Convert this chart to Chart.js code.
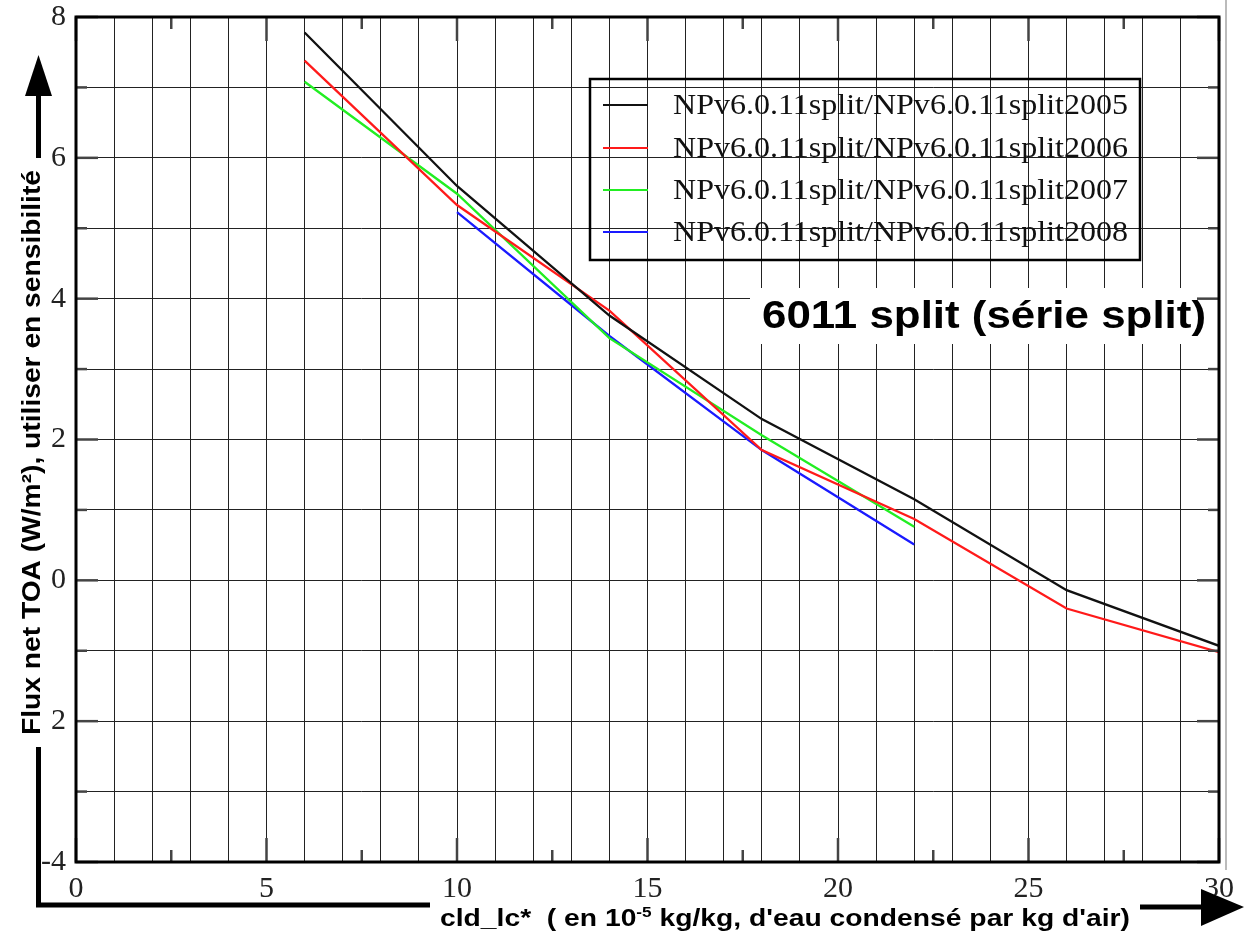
<!DOCTYPE html>
<html>
<head>
<meta charset="utf-8">
<script src="https://cdn.jsdelivr.net/npm/chart.js@4.4.1/dist/chart.umd.min.js"></script>
<style>
  html, body { margin: 0; padding: 0; background: #fff; }
  #wrap { width: 1251px; height: 932px; }
</style>
</head>
<body>
<div id="wrap"><canvas id="fluxChart" width="1251" height="932"></canvas></div>
<script>
/* ---- data ---- */
const SERIES_LABELS = [
  'NPv6.0.11split/NPv6.0.11split2005',
  'NPv6.0.11split/NPv6.0.11split2006',
  'NPv6.0.11split/NPv6.0.11split2007',
  'NPv6.0.11split/NPv6.0.11split2008'
];
const SERIES_COLORS = ['#111111', '#ff1a1a', '#22ee22', '#1a1aff'];

const x2005 = [6, 10, 14, 18, 22, 26, 30];
const y2005 = [7.78, 5.6, 3.76, 2.29, 1.15, -0.14, -0.93];
const x2006 = [6, 10, 14, 18, 22, 26, 30];
const y2006 = [7.38, 5.33, 3.83, 1.85, 0.87, -0.40, -1.02];
const x2007 = [6, 10, 14, 18, 22];
const y2007 = [7.08, 5.49, 3.44, 2.06, 0.76];
const x2008 = [10, 14, 18, 22];
const y2008 = [5.23, 3.47, 1.85, 0.51];

const X_MIN = 0, X_MAX = 30, Y_MIN = -4, Y_MAX = 8;
const X_MAJOR = [0, 5, 10, 15, 20, 25, 30];
const X_MINOR = [2.5, 7.5, 12.5, 17.5, 22.5, 27.5];
const Y_MAJOR = [-4, -2, 0, 2, 4, 6, 8];
const Y_MINOR = [-3, -1, 1, 3, 5, 7];

const PLOT_TITLE = '6011 split (série split)';
const Y_TITLE = 'Flux net TOA (W/m²), utiliser en sensibilité';
const X_TITLE = ['cld_lc*  ( en 10', '-5', ' kg/kg, d\'eau condensé par kg d\'air)'];

const SERIF = '"Liberation Serif", "DejaVu Serif", serif';
const SANS = '"Liberation Sans", Arial, sans-serif';

function toPoints(xs, ys) { return xs.map((x, i) => ({ x, y: ys[i] })); }

// draw text stretched along its direction so it spans `width` px
function fitText(c, text, font, x, y, width) {
  c.save();
  c.font = font;
  const w = c.measureText(text).width;
  c.translate(x, y);
  c.scale(width / w, 1);
  c.fillText(text, 0, 0);
  c.restore();
}

/* ---- decorations: frame, inner ticks, legend, titles, arrows ---- */
const decorPlugin = {
  id: 'decor',
  afterDraw(chart) {
    const c = chart.ctx;
    const xs = chart.scales.x, ys = chart.scales.y;
    const a = chart.chartArea;

    // title box over the grid
    c.save();
    c.fillStyle = '#fff';
    c.fillRect(750, 288, a.right - 752, 56);
    c.fillStyle = '#000';
    c.textBaseline = 'alphabetic';
    fitText(c, PLOT_TITLE, 'bold 39px ' + SANS, 762, 328, 444);

    // legend (transparent box, grid shows through)
    c.strokeStyle = '#000';
    c.lineWidth = 2.5;
    c.strokeRect(590, 79, 550, 181);
    const rows = [105, 148, 190, 232];
    chart.data.datasets.forEach((ds, i) => {
      c.strokeStyle = ds.borderColor;
      c.lineWidth = 2;
      c.beginPath(); c.moveTo(603, rows[i]); c.lineTo(648, rows[i]); c.stroke();
      c.fillStyle = '#111';
      c.textBaseline = 'middle';
      fitText(c, ds.label, '30px ' + SERIF, 673, rows[i] + 1, 455);
    });

    // inward tick marks on all four sides
    c.strokeStyle = '#444';
    c.lineWidth = 2.5;
    const tick = (x1, y1, x2, y2) => { c.beginPath(); c.moveTo(x1, y1); c.lineTo(x2, y2); c.stroke(); };
    X_MAJOR.forEach(v => { const p = xs.getPixelForValue(v); tick(p, a.top, p, a.top + 24); tick(p, a.bottom, p, a.bottom - 24); });
    X_MINOR.forEach(v => { const p = xs.getPixelForValue(v); tick(p, a.top, p, a.top + 12); tick(p, a.bottom, p, a.bottom - 12); });
    Y_MAJOR.forEach(v => { const p = ys.getPixelForValue(v); tick(a.left, p, a.left + 22, p); tick(a.right, p, a.right - 22, p); });
    Y_MINOR.forEach(v => { const p = ys.getPixelForValue(v); tick(a.left, p, a.left + 11, p); tick(a.right, p, a.right - 11, p); });

    // frame
    c.strokeStyle = '#000';
    c.lineWidth = 3;
    c.strokeRect(a.left, a.top, a.right - a.left, a.bottom - a.top);

    // faint scan edge at right
    c.strokeStyle = '#bbb';
    c.lineWidth = 2;
    tick(1226, 0, 1226, 870);

    // y title on white box
    c.fillStyle = '#fff';
    c.fillRect(14, 160, 36, 585);
    c.translate(40, 735);
    c.rotate(-Math.PI / 2);
    c.fillStyle = '#000';
    c.textBaseline = 'alphabetic';
    fitText(c, Y_TITLE, 'bold 26px ' + SANS, 0, 0, 565);
    c.restore();

    // arrows
    c.save();
    c.strokeStyle = '#000';
    c.fillStyle = '#000';
    c.lineWidth = 5;
    c.lineCap = 'butt';
    c.beginPath();
    c.moveTo(38.5, 747); c.lineTo(38.5, 905); c.lineTo(430, 905);
    c.stroke();
    c.beginPath(); c.moveTo(38.5, 158); c.lineTo(38.5, 92); c.stroke();
    c.beginPath(); c.moveTo(38.5, 55); c.lineTo(25, 96); c.lineTo(52, 96); c.closePath(); c.fill();
    c.beginPath(); c.moveTo(1140, 907); c.lineTo(1204, 907); c.stroke();
    c.beginPath(); c.moveTo(1244, 907); c.lineTo(1201, 889); c.lineTo(1201, 926); c.closePath(); c.fill();

    // x title with superscript exponent, stretched to the reference span
    c.textBaseline = 'alphabetic';
    const big = 'bold 23px ' + SANS, small = 'bold 14px ' + SANS;
    c.font = big; const w0 = c.measureText(X_TITLE[0]).width, w2 = c.measureText(X_TITLE[2]).width;
    c.font = small; const w1 = c.measureText(X_TITLE[1]).width;
    c.translate(440, 926);
    c.scale(690 / (w0 + w1 + w2), 1);
    c.font = big; c.fillText(X_TITLE[0], 0, 0);
    c.font = small; c.fillText(X_TITLE[1], w0, -9);
    c.font = big; c.fillText(X_TITLE[2], w0 + w1, 0);
    c.restore();
  }
};

const ctx = document.getElementById('fluxChart');
new Chart(ctx, {
  type: 'line',
  data: {
    datasets: [
      { label: SERIES_LABELS[0], data: toPoints(x2005, y2005), borderColor: SERIES_COLORS[0] },
      { label: SERIES_LABELS[1], data: toPoints(x2006, y2006), borderColor: SERIES_COLORS[1] },
      { label: SERIES_LABELS[2], data: toPoints(x2007, y2007), borderColor: SERIES_COLORS[2] },
      { label: SERIES_LABELS[3], data: toPoints(x2008, y2008), borderColor: SERIES_COLORS[3] }
    ].map(d => ({ ...d, borderWidth: 2.3, pointRadius: 0, tension: 0, fill: false }))
  },
  options: {
    responsive: false, animation: false,
    layout: { padding: { top: 17, right: 32, left: 0, bottom: 0 } },
    plugins: { legend: { display: false }, tooltip: { enabled: false } },
    scales: {
      x: {
        type: 'linear', min: X_MIN, max: X_MAX,
        afterFit: s => { s.height = 70; s.paddingLeft = 0; s.paddingRight = 0; },
        ticks: { stepSize: 1, autoSkip: false, maxRotation: 0, padding: 9, color: '#222',
                 font: { family: SERIF, size: 30 }, callback: v => v % 5 === 0 ? String(v) : '' },
        grid: { color: '#222', lineWidth: 1, drawTicks: false },
        border: { display: false }
      },
      y: {
        type: 'linear', min: Y_MIN, max: Y_MAX,
        afterFit: s => { s.width = 76; s.paddingTop = 0; s.paddingBottom = 0; },
        ticks: { stepSize: 1, autoSkip: false, padding: 10, color: '#222',
                 font: { family: SERIF, size: 30 }, callback: v => v % 2 === 0 ? String(v) : '' },
        grid: { color: '#222', lineWidth: 1, drawTicks: false },
        border: { display: false }
      }
    }
  },
  plugins: [decorPlugin]
});
</script>
</body>
</html>
